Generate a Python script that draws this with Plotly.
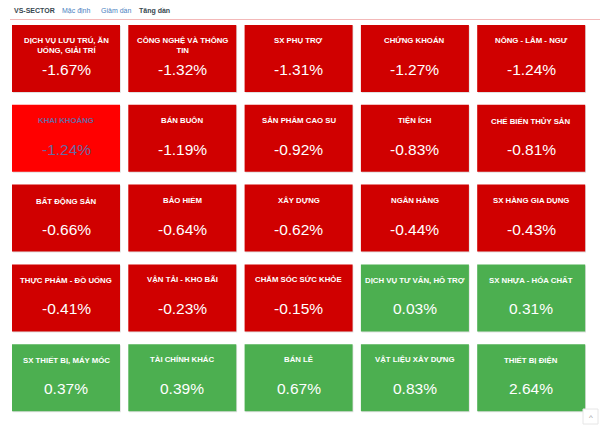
import plotly.graph_objects as go

sectors = [
    "DỊCH VỤ LƯU TRÚ, ĂN<br>UỐNG, GIẢI TRÍ", "CÔNG NGHỆ VÀ THÔNG<br>TIN", "SX PHỤ TRỢ", "CHỨNG KHOÁN", "NÔNG - LÂM - NGƯ",
    "KHAI KHOÁNG", "BÁN BUÔN", "SẢN PHẨM CAO SU", "TIỆN ÍCH", "CHẾ BIẾN THỦY SẢN",
    "BẤT ĐỘNG SẢN", "BẢO HIỂM", "XÂY DỰNG", "NGÂN HÀNG", "SX HÀNG GIA DỤNG",
    "THỰC PHẨM - ĐỒ UỐNG", "VẬN TẢI - KHO BÃI", "CHĂM SÓC SỨC KHỎE", "DỊCH VỤ TƯ VẤN, HỖ TRỢ", "SX NHỰA - HÓA CHẤT",
    "SX THIẾT BỊ, MÁY MÓC", "TÀI CHÍNH KHÁC", "BÁN LẺ", "VẬT LIỆU XÂY DỰNG", "THIẾT BỊ ĐIỆN",
]
changes = [
    -1.67, -1.32, -1.31, -1.27, -1.24,
    -1.24, -1.19, -0.92, -0.83, -0.81,
    -0.66, -0.64, -0.62, -0.44, -0.43,
    -0.41, -0.23, -0.15, 0.03, 0.31,
    0.37, 0.39, 0.67, 0.83, 2.64,
]
highlighted = "KHAI KHOÁNG"
header_items = ["VS-SECTOR", "Mặc định", "Giảm dần", "Tăng dần"]

NCOL = 5
X0, XSTEP, W = 12, 116.3, 108
Y0, YSTEP, H = 25, 79.8, 67
RED, BRIGHT, GREEN = "#d00000", "#ff0000", "#4caf50"
FONT = "Liberation Sans, Arial, sans-serif"

shapes = []
annotations = []
for i, (name, v) in enumerate(zip(sectors, changes)):
    r, c = divmod(i, NCOL)
    x0 = X0 + c * XSTEP
    y0 = Y0 + r * YSTEP
    hl = name == highlighted
    fill = BRIGHT if hl else (GREEN if v > 0 else RED)
    tcol = "#6a68a0" if hl else "white"
    shapes.append(dict(type="rect", xref="x", yref="y", x0=x0 + 0.8, x1=x0 + W + 0.8, y0=y0 + 1, y1=y0 + H + 1,
                       fillcolor="rgba(0,0,0,0.12)", line=dict(width=0), layer="below"))
    shapes.append(dict(type="rect", xref="x", yref="y", x0=x0, x1=x0 + W, y0=y0, y1=y0 + H,
                       fillcolor=fill, line=dict(width=0), layer="below"))
    annotations.append(dict(x=x0 + W / 2, y=y0 + 9, xref="x", yref="y", text="<b>%s</b>" % name,
                            showarrow=False, xanchor="center", yanchor="top",
                            font=dict(family=FONT, size=7.8, color=tcol)))
    annotations.append(dict(x=x0 + W / 2, y=y0 + 44.5, xref="x", yref="y", text="%.2f%%" % v,
                            showarrow=False, xanchor="center", yanchor="middle",
                            font=dict(family=FONT, size=15.5, color=tcol)))

# header
hx = [12, 60, 99, 137]
hstyle = [("#37474f", True), ("#4a7fc1", False), ("#4a7fc1", False), ("#37474f", True)]
for t, x, (col, bold) in zip(header_items, hx, hstyle):
    annotations.append(dict(x=x, y=10, xref="x", yref="y", text=("<b>%s</b>" % t) if bold else t,
                            showarrow=False, xanchor="left", yanchor="middle",
                            font=dict(family=FONT, size=7, color=col)))
shapes.append(dict(type="line", xref="x", yref="y", x0=10, x1=600, y0=19.5, y1=19.5,
                   line=dict(color="#f3b9b9", width=1)))

# scroll-top button
shapes.append(dict(type="rect", xref="x", yref="y", x0=583, x1=598, y0=409, y1=424,
                   fillcolor="white", line=dict(color="#e6e6e6", width=1)))
annotations.append(dict(x=590.5, y=417, xref="x", yref="y", text="^", showarrow=False,
                        font=dict(family=FONT, size=8, color="#999")))

fig = go.Figure()
fig.add_trace(go.Scatter(x=[0], y=[0], mode="markers", marker=dict(opacity=0), hoverinfo="skip", showlegend=False))
fig.update_layout(
    width=602, height=425, margin=dict(l=0, r=0, t=0, b=0),
    paper_bgcolor="white", plot_bgcolor="white",
    xaxis=dict(range=[0, 602], visible=False, fixedrange=True),
    yaxis=dict(range=[425, 0], visible=False, fixedrange=True),
    shapes=shapes, annotations=annotations, showlegend=False,
)
fig.write_html("out.html", config={"displayModeBar": False})
